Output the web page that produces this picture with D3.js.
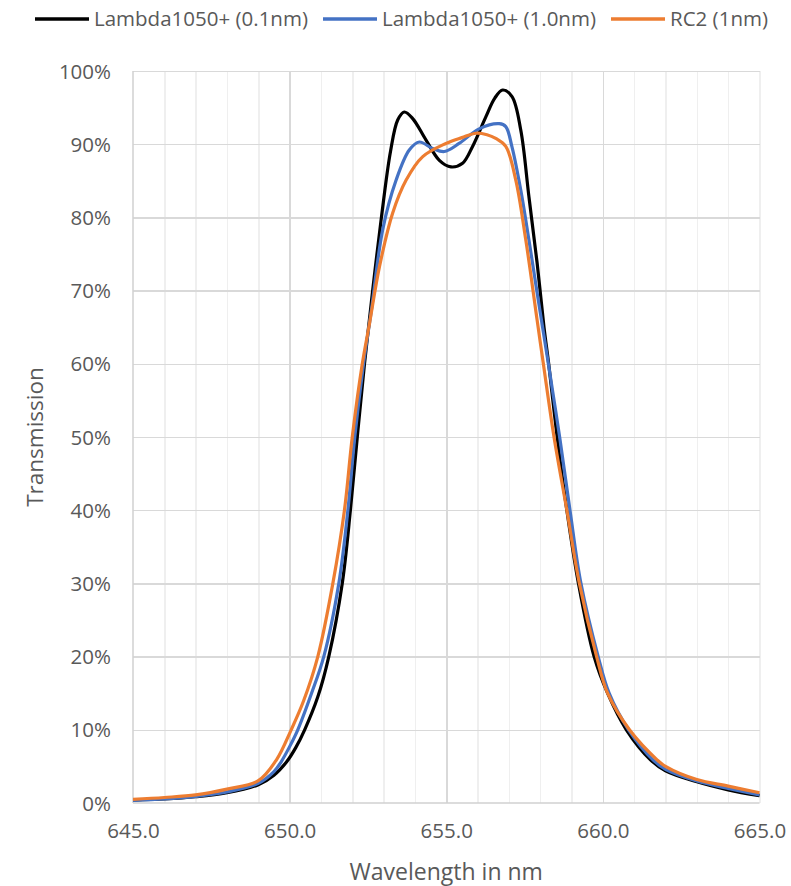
<!DOCTYPE html>
<html>
<head>
<meta charset="utf-8">
<script src="https://cdnjs.cloudflare.com/ajax/libs/d3/7.8.5/d3.min.js"></script>
<style>
    body { margin: 0; background: #fff; }
    #vis text { font-family: "Open Sans", sans-serif; fill: #595959; }
    .grid line { shape-rendering: crispEdges; }
    .grid path { display: none; }
</style>
</head>
<body>
<div id="vis"></div>
<script>
// wavelength (nm) and transmission (%)
var wlBlack = [645, 646, 647, 648, 649, 649.5, 649.9, 650.2, 650.48, 650.9, 651.25, 651.68, 651.94, 652.16, 652.39, 652.65, 652.93, 653.22, 653.45, 653.66, 653.93, 654.35, 654.78, 655.15, 655.52, 655.84, 656.26, 656.55, 656.8, 657.1, 657.38, 657.64, 657.9, 658.12, 658.27, 658.54, 658.85, 659.22, 659.72, 660.15, 660.75, 661.52, 662, 663, 664, 665];
var tBlack = [0.4, 0.55, 0.85, 1.4, 2.5, 3.8, 5.6, 7.6, 10, 14.5, 20, 30, 40, 50, 60, 70, 80, 89, 93.3, 94.4, 93.5, 90.6, 87.8, 86.9, 87.4, 89.7, 93.7, 96.3, 97.4, 96.5, 91.9, 82.8, 73.8, 65, 60, 50, 40, 30, 20, 15, 10, 5.9, 4.4, 2.9, 1.8, 1.0];

var wlBlue = [645, 646, 647, 648, 649, 649.5, 649.74, 650.0, 650.26, 650.7, 651.09, 651.57, 651.86, 652.08, 652.36, 652.6, 652.97, 653.4, 653.82, 654.14, 654.57, 654.94, 655.41, 656.05, 656.69, 656.9, 657.1, 657.38, 657.64, 657.92, 658.26, 658.62, 658.95, 659.3, 659.85, 660.2, 660.82, 661.6, 662, 663, 664, 665];
var tBlue = [0.35, 0.55, 0.9, 1.5, 2.7, 4.3, 5.7, 7.7, 10, 15, 20, 30, 40, 50, 60, 67, 78.3, 85.1, 89.2, 90.3, 89.4, 89.0, 90.1, 92.1, 92.8, 92.4, 89.6, 83.7, 76.9, 69.2, 60, 50, 40, 30, 20, 15, 10, 5.9, 4.6, 3.0, 2.0, 1.1];

var wlOrange = [645, 646, 647, 648, 649, 649.58, 650.05, 650.45, 650.9, 651.38, 651.75, 652.0, 652.32, 652.55, 652.87, 653.29, 653.72, 654.25, 654.99, 655.5, 655.95, 656.3, 656.58, 656.9, 657.22, 657.54, 657.9, 658.1, 658.44, 658.85, 659.25, 659.8, 660.15, 660.85, 661.73, 662, 663, 664, 665];
var tOrange = [0.5, 0.75, 1.1, 1.9, 3.05, 5.9, 10, 14, 20, 30, 40, 50, 60, 65.5, 73.3, 80.6, 85.1, 88.3, 90.1, 90.9, 91.5, 91.3, 90.8, 89.7, 85.1, 76.9, 66, 60, 50, 40, 30, 20, 15, 10, 5.9, 5.0, 3.2, 2.3, 1.4];

var seriesNames = ['Lambda1050+ (0.1nm)', 'Lambda1050+ (1.0nm)', 'RC2 (1nm)'];
var seriesColors = ['#000000', '#4472C4', '#ED7D31'];

var xTicks = [645, 650, 655, 660, 665];
var xMinorTicks = [646, 647, 648, 649, 651, 652, 653, 654, 656, 657, 658, 659, 661, 662, 663, 664, 665];
var yTicks = [0, 10, 20, 30, 40, 50, 60, 70, 80, 90, 100];

var width = 791,
    height = 886,
    margin = { top: 71, right: 31.5, bottom: 83, left: 133 },
    drawWidth = width - margin.left - margin.right,
    drawHeight = height - margin.top - margin.bottom;

var svg = d3.select('#vis').append('svg')
    .attr('width', width)
    .attr('height', height);

var g = svg.append('g')
    .attr('transform', 'translate(' + margin.left + ',' + margin.top + ')');

var xScale = d3.scaleLinear().domain([645, 665]).range([0, drawWidth]);
var yScale = d3.scaleLinear().domain([0, 100]).range([drawHeight, 0]);

// minor vertical grid (every nm)
g.append('g')
    .attr('class', 'grid')
    .attr('transform', 'translate(0,' + drawHeight + ')')
    .call(d3.axisBottom(xScale).tickValues(xMinorTicks).tickSize(-drawHeight).tickFormat(''))
    .selectAll('line').attr('stroke', '#efefef').attr('stroke-width', 1.5);

// major vertical grid
g.append('g')
    .attr('class', 'grid')
    .attr('transform', 'translate(0,' + drawHeight + ')')
    .call(d3.axisBottom(xScale).tickValues(xTicks.slice(1, 4)).tickSize(-drawHeight).tickFormat(''))
    .selectAll('line').attr('stroke', '#d9d9d9').attr('stroke-width', 1.5);

// horizontal grid
g.append('g')
    .attr('class', 'grid')
    .call(d3.axisLeft(yScale).tickValues(yTicks.slice(1)).tickSize(-drawWidth).tickFormat(''))
    .selectAll('line').attr('stroke', '#d9d9d9').attr('stroke-width', 1.5);

// axis lines
g.append('line')
    .attr('x1', 0).attr('x2', 0).attr('y1', 0).attr('y2', drawHeight)
    .attr('stroke', '#d0d0d0').attr('stroke-width', 1.5);
g.append('line')
    .attr('x1', 0).attr('x2', drawWidth).attr('y1', drawHeight).attr('y2', drawHeight)
    .attr('stroke', '#d0d0d0').attr('stroke-width', 1.5);

// tick labels
var yAxis = g.append('g')
    .call(d3.axisLeft(yScale).tickValues(yTicks).tickSize(0).tickPadding(22)
        .tickFormat(function(d) { return d + '%'; }));
yAxis.select('.domain').remove();
yAxis.selectAll('text').style('font-size', '20.5px').attr('dy', '0.35em');

var xAxis = g.append('g')
    .attr('transform', 'translate(0,' + drawHeight + ')')
    .call(d3.axisBottom(xScale).tickValues(xTicks).tickSize(0).tickPadding(20)
        .tickFormat(d3.format('.1f')));
xAxis.select('.domain').remove();
xAxis.selectAll('text').style('font-size', '20.5px');

// axis titles
svg.append('text')
    .attr('x', margin.left + drawWidth / 2)
    .attr('y', 880)
    .attr('text-anchor', 'middle')
    .style('font-size', '23px')
    .text('Wavelength in nm');

svg.append('text')
    .attr('transform', 'translate(43,' + (margin.top + drawHeight / 2) + ') rotate(-90)')
    .attr('text-anchor', 'middle')
    .style('font-size', '22.5px')
    .text('Transmission');

// lines
var series = [
    { x: wlBlack, y: tBlack },
    { x: wlBlue, y: tBlue },
    { x: wlOrange, y: tOrange }
];

var line = d3.line()
    .x(function(d) { return xScale(d[0]); })
    .y(function(d) { return yScale(d[1]); })
    .curve(d3.curveCatmullRom.alpha(0.5));

series.forEach(function(s, i) {
    var pts = s.x.map(function(w, j) { return [w, s.y[j]]; });
    g.append('path')
        .datum(pts)
        .attr('fill', 'none')
        .attr('stroke', seriesColors[i])
        .attr('stroke-width', 3.2)
        .attr('stroke-linejoin', 'round')
        .attr('d', line);
});

// legend
var legendX = [35, 323, 611];
var legend = svg.append('g');
seriesNames.forEach(function(name, i) {
    legend.append('line')
        .attr('x1', legendX[i]).attr('x2', legendX[i] + 54)
        .attr('y1', 19).attr('y2', 19)
        .attr('stroke', seriesColors[i])
        .attr('stroke-width', 3.5);
    legend.append('text')
        .attr('x', legendX[i] + 59)
        .attr('y', 19)
        .attr('dy', '0.35em')
        .style('font-size', '20.5px')
        .text(name);
});
</script>
</body>
</html>
